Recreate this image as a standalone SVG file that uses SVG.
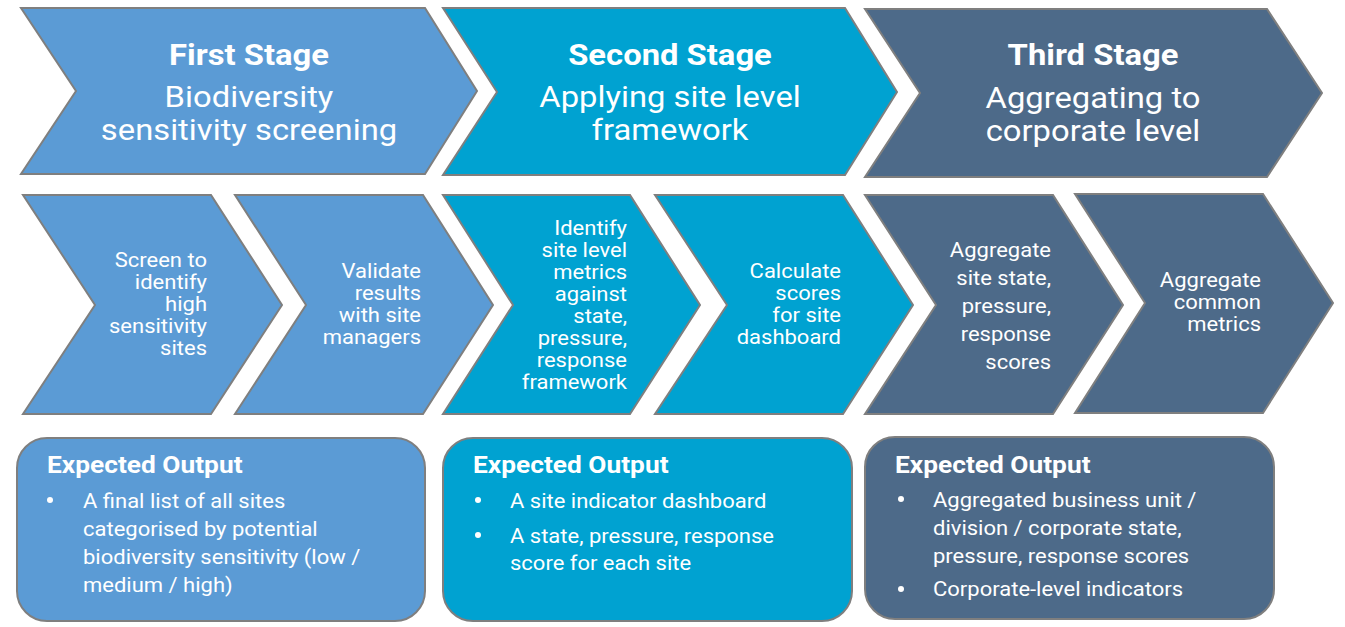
<svg xmlns="http://www.w3.org/2000/svg" width="1345" height="627" viewBox="0 0 1345 627">
<style>
.s1{fill:#5B9BD5}
.s2{fill:#00A2D1}
.s3{fill:#4D6A89}
.sh{stroke:#7F7F7F;stroke-width:2;stroke-linejoin:miter}
text{fill:#FFFFFF;font-family:Roboto,"Liberation Sans",sans-serif}
.t{font-size:29px;font-weight:bold;text-anchor:middle}
.st{font-size:29px;text-anchor:middle}
.step{font-size:20px;text-anchor:end}
.eo{font-size:23.5px;font-weight:bold}
.bl{font-size:20px}
.dot{fill:#FFFFFF}
</style>
<rect width="1345" height="627" fill="#FFFFFF"/>

<g id="stage1">
<polygon class="s1 sh" points="21,8 425,8 477,91 425,174 21,174 76,91"/>
<text class="t" transform="translate(249,0) scale(1.13,1)"><tspan x="0" y="65">First Stage</tspan></text>
<text class="st" transform="translate(249,0) scale(1.13,1)"><tspan x="0" y="107">Biodiversity</tspan><tspan x="0" y="140">sensitivity screening</tspan></text>
</g>
<g id="stage2">
<polygon class="s2 sh" points="443,8 845,8 897,92 845,175 443,175 497,92"/>
<text class="t" transform="translate(670,0) scale(1.13,1)"><tspan x="0" y="65">Second Stage</tspan></text>
<text class="st" transform="translate(670,0) scale(1.13,1)"><tspan x="0" y="107">Applying site level</tspan><tspan x="0" y="140">framework</tspan></text>
</g>
<g id="stage3">
<polygon class="s3 sh" points="865,9 1267,9 1322,93 1267,177 865,177 920,93"/>
<text class="t" transform="translate(1093,0) scale(1.13,1)"><tspan x="0" y="65">Third Stage</tspan></text>
<text class="st" transform="translate(1093,0) scale(1.13,1)"><tspan x="0" y="108">Aggregating to</tspan><tspan x="0" y="141">corporate level</tspan></text>
</g>

<g id="step-screen">
<polygon class="s1 sh" points="23,195 211,195 282,305 211,414 23,414 95,305"/>
<text class="step" transform="translate(207,0) scale(1.1,1)"><tspan x="0" y="267">Screen to</tspan><tspan x="0" y="289">identify</tspan><tspan x="0" y="311">high</tspan><tspan x="0" y="333">sensitivity</tspan><tspan x="0" y="355">sites</tspan></text>
</g>
<g id="step-validate">
<polygon class="s1 sh" points="235,195 423,195 493,305 423,414 235,414 306,305"/>
<text class="step" transform="translate(421,0) scale(1.1,1)"><tspan x="0" y="278">Validate</tspan><tspan x="0" y="300">results</tspan><tspan x="0" y="322">with site</tspan><tspan x="0" y="344">managers</tspan></text>
</g>
<g id="step-identify">
<polygon class="s2 sh" points="443,195 630,195 700,305 630,414 443,414 513,305"/>
<text class="step" transform="translate(627,0) scale(1.1,1)"><tspan x="0" y="235">Identify</tspan><tspan x="0" y="257">site level</tspan><tspan x="0" y="279">metrics</tspan><tspan x="0" y="301">against</tspan><tspan x="0" y="323">state,</tspan><tspan x="0" y="345">pressure,</tspan><tspan x="0" y="367">response</tspan><tspan x="0" y="389">framework</tspan></text>
</g>
<g id="step-calculate">
<polygon class="s2 sh" points="655,195 843,195 913,305 843,414 655,414 727,305"/>
<text class="step" transform="translate(841,0) scale(1.1,1)"><tspan x="0" y="278">Calculate</tspan><tspan x="0" y="300">scores</tspan><tspan x="0" y="322">for site</tspan><tspan x="0" y="344">dashboard</tspan></text>
</g>
<g id="step-aggregate-site">
<polygon class="s3 sh" points="865,195 1053,195 1123,305 1053,414 865,414 936,305"/>
<text class="step" transform="translate(1051,0) scale(1.1,1)"><tspan x="0" y="257">Aggregate</tspan><tspan x="0" y="285">site state,</tspan><tspan x="0" y="313">pressure,</tspan><tspan x="0" y="341">response</tspan><tspan x="0" y="369">scores</tspan></text>
</g>
<g id="step-aggregate-common">
<polygon class="s3 sh" points="1075,194 1263,194 1333,303 1263,413 1075,413 1145,303"/>
<text class="step" transform="translate(1261,0) scale(1.1,1)"><tspan x="0" y="287">Aggregate</tspan><tspan x="0" y="309">common</tspan><tspan x="0" y="331">metrics</tspan></text>
</g>

<g id="output1">
<rect class="s1 sh" x="17" y="438" width="408" height="183" rx="30" ry="30"/>
<text class="eo" transform="translate(47,0) scale(1.12,1)"><tspan x="0" y="473">Expected Output</tspan></text>
<circle class="dot" cx="50" cy="500" r="3"/>
<text class="bl" transform="translate(83,0) scale(1.1,1)"><tspan x="0" y="508">A final list of all sites</tspan><tspan x="0" y="536">categorised by potential</tspan><tspan x="0" y="564">biodiversity sensitivity (low /</tspan><tspan x="0" y="592">medium / high)</tspan></text>
</g>
<g id="output2">
<rect class="s2 sh" x="443" y="438" width="409" height="183" rx="30" ry="30"/>
<text class="eo" transform="translate(473,0) scale(1.12,1)"><tspan x="0" y="473">Expected Output</tspan></text>
<circle class="dot" cx="478" cy="500" r="3"/>
<circle class="dot" cx="478" cy="535" r="3"/>
<text class="bl" transform="translate(510,0) scale(1.1,1)"><tspan x="0" y="508">A site indicator dashboard</tspan><tspan x="0" y="543">A state, pressure, response</tspan><tspan x="0" y="570">score for each site</tspan></text>
</g>
<g id="output3">
<rect class="s3 sh" x="865" y="437" width="409" height="182" rx="30" ry="30"/>
<text class="eo" transform="translate(895,0) scale(1.12,1)"><tspan x="0" y="473">Expected Output</tspan></text>
<circle class="dot" cx="901" cy="499" r="3"/>
<circle class="dot" cx="901" cy="589" r="3"/>
<text class="bl" transform="translate(933,0) scale(1.1,1)"><tspan x="0" y="507">Aggregated business unit /</tspan><tspan x="0" y="535">division / corporate state,</tspan><tspan x="0" y="563">pressure, response scores</tspan><tspan x="0" y="596">Corporate-level indicators</tspan></text>
</g>

<g id="connectors"></g>
</svg>
